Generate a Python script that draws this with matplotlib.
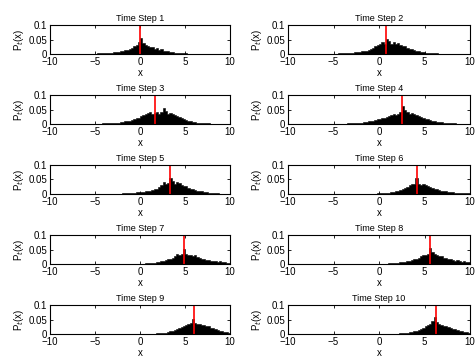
import matplotlib
matplotlib.use("Agg")
import matplotlib.pyplot as plt
import numpy as np

plt.rcParams["font.family"] = ["Liberation Sans", "DejaVu Sans"]

# histogram bins shared by every time step (0.25 wide, -10..10)
bin_edges = np.linspace(-10, 10, 81)

# bin heights per time step, in units of 1e-3 (rows: [-10,-5) [-5,0) [0,5) [5,10))
step_1 = [0, 0, 0, 0, 0, 0, 0, 0, 0, 0, 0, 0, 0, 0, 0, 0, 0, 1, 1, 1,
          1, 2, 2, 2, 3, 3, 4, 5, 6, 8, 7, 10, 12, 15, 13, 18, 22, 26, 30, 42,
          56, 38, 32, 28, 24, 25, 18, 20, 14, 16, 11, 12, 10, 8, 6, 5, 4, 3, 3, 2,
          2, 1, 1, 1, 1, 0, 0, 0, 0, 0, 0, 0, 0, 0, 0, 0, 0, 0, 0, 0]
step_2 = [0, 0, 0, 0, 0, 0, 0, 0, 0, 0, 0, 0, 0, 0, 0, 0, 0, 1, 1, 1,
          1, 1, 2, 2, 2, 3, 3, 4, 5, 6, 6, 8, 9, 11, 12, 14, 18, 22, 26, 30,
          34, 40, 36, 52, 44, 36, 42, 34, 38, 30, 26, 28, 22, 18, 16, 14, 11, 10, 8, 7,
          5, 4, 4, 3, 2, 2, 1, 1, 1, 0, 0, 0, 0, 0, 0, 0, 0, 0, 0, 0]
step_3 = [0, 0, 0, 0, 0, 0, 0, 0, 0, 0, 0, 0, 0, 0, 0, 0, 0, 1, 1, 1,
          1, 1, 1, 2, 2, 2, 3, 3, 4, 4, 5, 6, 8, 9, 11, 12, 14, 18, 20, 22,
          26, 30, 34, 38, 40, 36, 38, 42, 36, 40, 56, 44, 36, 38, 34, 30, 26, 24, 20, 18,
          15, 12, 10, 8, 6, 5, 4, 3, 3, 2, 2, 1, 1, 1, 0, 0, 0, 0, 0, 0]
step_4 = [0, 0, 0, 0, 0, 0, 0, 0, 0, 0, 0, 0, 0, 0, 0, 0, 0, 0, 0, 0,
          0, 0, 1, 1, 1, 1, 2, 2, 3, 3, 4, 4, 5, 6, 8, 9, 10, 12, 14, 16,
          18, 20, 22, 24, 26, 30, 34, 32, 36, 40, 62, 48, 42, 34, 38, 36, 30, 28, 24, 20,
          18, 16, 14, 12, 10, 8, 7, 6, 5, 4, 3, 3, 2, 2, 1, 1, 1, 0, 0, 0]
step_5 = [0, 0, 0, 0, 0, 0, 0, 0, 0, 0, 0, 0, 0, 0, 0, 0, 0, 0, 0, 0,
          0, 0, 0, 0, 0, 0, 0, 0, 1, 1, 1, 1, 2, 2, 3, 3, 4, 5, 6, 6,
          7, 8, 9, 10, 12, 14, 16, 18, 24, 30, 40, 34, 38, 56, 44, 36, 40, 38, 30, 28,
          26, 22, 18, 16, 14, 12, 10, 9, 7, 6, 5, 4, 3, 2, 2, 1, 1, 1, 0, 0]
step_6 = [0, 0, 0, 0, 0, 0, 0, 0, 0, 0, 0, 0, 0, 0, 0, 0, 0, 0, 0, 0,
          0, 0, 0, 0, 0, 0, 0, 0, 0, 0, 0, 0, 0, 0, 0, 0, 1, 1, 1, 2,
          2, 3, 3, 4, 5, 6, 8, 10, 12, 14, 16, 20, 24, 30, 34, 36, 54, 36, 30, 34,
          32, 28, 24, 22, 18, 16, 14, 12, 10, 9, 8, 7, 6, 5, 5, 4, 4, 3, 2, 3]
step_7 = [0, 0, 0, 0, 0, 0, 0, 0, 0, 0, 0, 0, 0, 0, 0, 0, 0, 0, 0, 0,
          0, 0, 0, 0, 0, 0, 0, 0, 0, 0, 0, 0, 0, 0, 0, 0, 0, 0, 0, 0,
          1, 1, 2, 2, 3, 4, 5, 6, 8, 10, 12, 14, 16, 18, 22, 26, 34, 30, 36, 52,
          34, 30, 32, 28, 30, 24, 20, 18, 16, 14, 15, 12, 10, 11, 8, 12, 7, 6, 5, 4]
step_8 = [0, 0, 0, 0, 0, 0, 0, 0, 0, 0, 0, 0, 0, 0, 0, 0, 0, 0, 0, 0,
          0, 0, 0, 0, 0, 0, 0, 0, 0, 0, 0, 0, 0, 0, 0, 0, 0, 0, 0, 0,
          0, 0, 1, 1, 2, 2, 3, 4, 5, 6, 7, 8, 10, 12, 14, 16, 18, 22, 26, 30,
          32, 36, 54, 40, 34, 30, 28, 26, 22, 20, 18, 16, 14, 12, 14, 10, 8, 9, 7, 6]
step_9 = [0, 0, 0, 0, 0, 0, 0, 0, 0, 0, 0, 0, 0, 0, 0, 0, 0, 0, 0, 0,
          0, 0, 0, 0, 0, 0, 0, 0, 0, 0, 0, 0, 0, 0, 0, 0, 0, 0, 0, 0,
          0, 0, 0, 0, 1, 1, 1, 2, 2, 3, 4, 5, 8, 10, 12, 14, 18, 20, 24, 26,
          30, 34, 38, 52, 38, 34, 36, 32, 30, 28, 26, 22, 20, 18, 14, 12, 10, 8, 6, 3]
step_10 = [0, 0, 0, 0, 0, 0, 0, 0, 0, 0, 0, 0, 0, 0, 0, 0, 0, 0, 0, 0,
           0, 0, 0, 0, 0, 0, 0, 0, 0, 0, 0, 0, 0, 0, 0, 0, 0, 0, 0, 0,
           0, 0, 0, 0, 0, 0, 0, 1, 1, 2, 2, 3, 4, 6, 8, 10, 12, 14, 18, 22,
           26, 30, 36, 44, 60, 40, 36, 32, 28, 26, 24, 20, 18, 16, 14, 12, 10, 8, 6, 4]

steps = [step_1, step_2, step_3, step_4, step_5,
         step_6, step_7, step_8, step_9, step_10]

# mean position of each time step (red marker)
means = [0.05, 0.77, 1.67, 2.48, 3.33, 4.16, 4.93, 5.65, 5.98, 6.22]

x_ticks = [-10, -5, 0, 5, 10]
y_ticks = [0, 0.05, 0.1]
y_tick_labels = ["0", "0.05", "0.1"]

W, H = 475, 359
fig = plt.figure(figsize=(W / 100, H / 100), dpi=100)

col_left = [50, 288]
col_width = [180, 182]
row_top = [25, 95, 165, 235, 305]
ax_h = 29

for k, (heights, mu) in enumerate(zip(steps, means)):
    r, c = divmod(k, 2)
    rect = [col_left[c] / W, 1 - (row_top[r] + ax_h) / H, col_width[c] / W, ax_h / H]
    ax = fig.add_axes(rect)
    vals = np.asarray(heights, dtype=float) * 1e-3
    # step outline as one solid polygon
    y_step = np.append(vals, vals[-1])
    ax.fill_between(bin_edges, y_step, step="post", color="black", lw=0.4,
                    edgecolor="black")
    ax.axvline(mu, color="red", lw=1.2)
    ax.set_xlim(-10, 10)
    ax.set_ylim(0, 0.1)
    ax.set_xticks(x_ticks)
    ax.set_xticklabels([str(t).replace("-", "\u2212") for t in x_ticks])
    ax.set_yticks(y_ticks)
    ax.set_yticklabels(y_tick_labels)
    ax.tick_params(direction="in", length=2, width=0.6, labelsize=7, pad=2,
                   top=True, right=True)
    for s in ax.spines.values():
        s.set_linewidth(0.8)
    ax.set_title(f"Time Step {k + 1}", fontsize=6.5, pad=3)
    ax.set_xlabel("x", fontsize=7, labelpad=1)
    ax.set_ylabel("P$_t$(x)", fontsize=7, labelpad=2)

fig.savefig("out.png", dpi=100)
